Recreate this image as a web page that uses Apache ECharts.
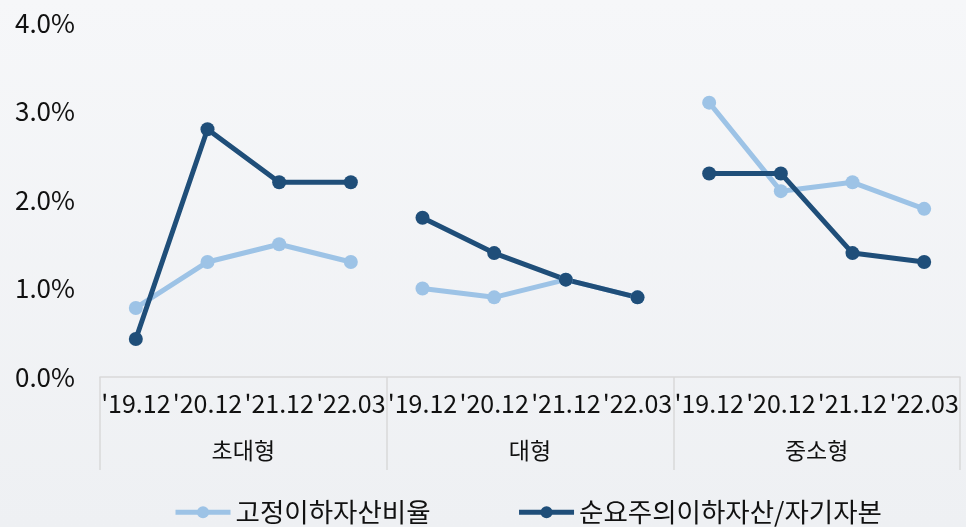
<!DOCTYPE html>
<html>
<head>
<meta charset="utf-8">
<script src="https://cdn.jsdelivr.net/npm/echarts@6/dist/echarts.min.js"></script>
<style>
  html, body { margin: 0; padding: 0; }
  #chart { width: 966px; height: 527px; background: linear-gradient(180deg, #f6f7f9 0%, #eef0f3 100%); }
</style>
</head>
<body>
<div id="chart"></div>
<script>
var periods = ["'19.12", "'20.12", "'21.12", "'22.03"];
var groups = ['초대형', '대형', '중소형'];
var fixedRatio = [
	[0.78, 1.3, 1.5, 1.3],
	[1.0, 0.9, 1.1, 0.9],
	[3.1, 2.1, 2.2, 1.9]
];
var netRatio = [
	[0.43, 2.8, 2.2, 2.2],
	[1.8, 1.4, 1.1, 0.9],
	[2.3, 2.3, 1.4, 1.3]
];
var seriesNames = ['고정이하자산비율', '순요주의이하자산/자기자본'];
var colors = ['#9dc3e6', '#1f4e79'];

var font = '"Noto Sans CJK KR", "Noto Sans", sans-serif';

// x categories: 4 periods repeated per group
var categories = [];
groups.forEach(function() { categories = categories.concat(periods); });

// one series per group so the line breaks between groups
function groupSeries(name, values, color) {
	return values.map(function(vals, g) {
		var data = categories.map(function() { return null; });
		vals.forEach(function(v, i) { data[g * periods.length + i] = v; });
		return {
			name: name,
			type: 'line',
			data: data,
			symbol: 'circle',
			symbolSize: 14,
			lineStyle: { width: 5, color: color },
			itemStyle: { color: color },
			connectNulls: false,
			animation: false
		};
	});
}

var series = groupSeries(seriesNames[0], fixedRatio, colors[0])
	.concat(groupSeries(seriesNames[1], netRatio, colors[1]));

var myChart = echarts.init(document.getElementById('chart'));

var option = {
	color: colors,
	grid: { left: 100, right: 6, top: 23, bottom: 150 },
	legend: {
		data: seriesNames,
		left: 173,
		top: 499,
		padding: 0,
		itemWidth: 55,
		itemHeight: 15,
		itemGap: 86,
		lineStyle: { width: 5 },
		textStyle: { fontFamily: font, fontSize: 26.5, color: '#111' }
	},
	xAxis: [
		{
			type: 'category',
			data: categories,
			position: 'bottom',
			axisLine: { lineStyle: { color: '#d9d9d9', width: 1.5 } },
			axisTick: { show: false },
			axisLabel: { interval: 0, margin: 14, fontFamily: font, fontSize: 25, color: '#111' }
		},
		{
			type: 'category',
			data: groups,
			position: 'bottom',
			axisLine: { show: false },
			axisTick: { show: true, interval: 0, length: 93, lineStyle: { color: '#d9d9d9', width: 1.5 } },
			axisLabel: { interval: 0, margin: 62, fontFamily: font, fontSize: 23, color: '#111' }
		}
	],
	yAxis: {
		type: 'value',
		min: 0,
		max: 4,
		interval: 1,
		splitLine: { show: false },
		axisLine: { show: false },
		axisTick: { show: false },
		axisLabel: {
			margin: 25,
			fontFamily: font,
			fontSize: 26,
			color: '#111',
			formatter: function(v) { return v.toFixed(1) + '%'; }
		}
	},
	series: series
};

myChart.setOption(option);
</script>
</body>
</html>
